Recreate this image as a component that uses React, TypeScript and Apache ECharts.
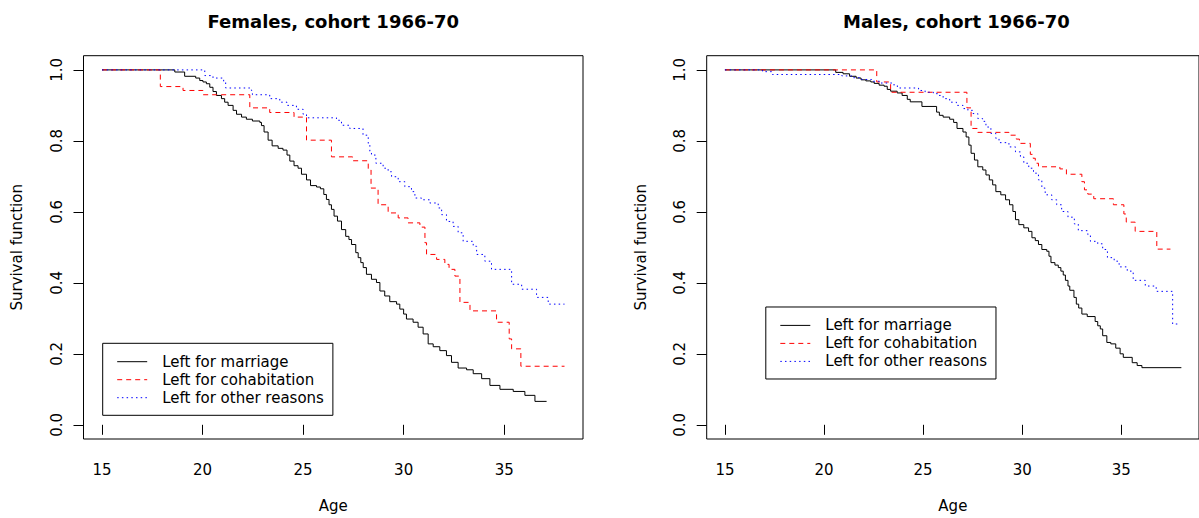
import React, { useEffect, useRef } from "react";
import * as echarts from "echarts";

// ---------- Data ----------
const SERIES_NAMES = ["Left for marriage", "Left for cohabitation", "Left for other reasons"];
const PANEL_TITLES = ["Females, cohort 1966-70", "Males, cohort 1966-70"];
const X_TICKS = [15, 20, 25, 30, 35];
const Y_TICKS = [0, 0.2, 0.4, 0.6, 0.8, 1.0];

// Females, cohort 1966-70
const femMarriageAge = [15, 18.62, 19.11, 19.66, 19.86, 20.02, 20.19, 20.36, 20.52, 20.69, 20.94, 21.1, 21.27, 21.52, 21.69, 21.94, 22.18, 22.48, 22.85, 22.93, 23.06, 23.26, 23.46, 23.76, 24.0, 24.2, 24.34, 24.55, 24.75, 24.92, 25.17, 25.37, 25.67, 25.86, 26.03, 26.16, 26.29, 26.41, 26.54, 26.71, 26.91, 27.12, 27.28, 27.41, 27.62, 27.74, 27.87, 27.99, 28.15, 28.4, 28.65, 28.82, 29.06, 29.31, 29.65, 29.81, 30.0, 30.14, 30.47, 30.72, 30.97, 31.22, 31.47, 31.8, 32.13, 32.38, 32.71, 33.13, 33.46, 33.88, 34.29, 34.79, 35.45, 36.03, 36.53, 37.11];
const femMarriageSurv = [1.0, 0.994, 0.982, 0.977, 0.97, 0.966, 0.961, 0.951, 0.939, 0.928, 0.919, 0.909, 0.9, 0.886, 0.875, 0.867, 0.861, 0.856, 0.852, 0.843, 0.825, 0.802, 0.786, 0.779, 0.774, 0.76, 0.743, 0.73, 0.723, 0.706, 0.69, 0.674, 0.67, 0.665, 0.649, 0.635, 0.62, 0.607, 0.588, 0.574, 0.55, 0.531, 0.522, 0.508, 0.485, 0.471, 0.457, 0.443, 0.424, 0.41, 0.401, 0.377, 0.363, 0.347, 0.34, 0.326, 0.312, 0.298, 0.289, 0.275, 0.256, 0.228, 0.22, 0.209, 0.195, 0.176, 0.16, 0.155, 0.144, 0.13, 0.111, 0.1, 0.094, 0.083, 0.066, 0.066];

const femCohabAge = [15, 17.9, 19.03, 20.02, 22.35, 23.34, 24.55, 25.17, 26.41, 27.46, 28.24, 28.38, 28.73, 29.23, 29.73, 30.22, 30.81, 31.06, 31.14, 31.64, 32.05, 32.26, 32.55, 32.8, 33.3, 34.62, 35.25, 35.37, 35.83, 38.0];
const femCohabSurv = [1.0, 0.953, 0.942, 0.93, 0.893, 0.88, 0.867, 0.802, 0.755, 0.744, 0.718, 0.667, 0.62, 0.597, 0.583, 0.569, 0.557, 0.513, 0.48, 0.466, 0.452, 0.438, 0.419, 0.345, 0.321, 0.289, 0.242, 0.214, 0.165, 0.165];

const femOtherAge = [15, 20.11, 20.52, 21.05, 21.15, 22.43, 22.48, 23.34, 23.84, 24.2, 24.67, 25.0, 25.17, 26.66, 26.91, 27.32, 27.98, 28.24, 28.32, 28.4, 28.62, 28.98, 29.23, 29.4, 29.73, 30.06, 30.39, 30.56, 30.89, 31.3, 31.72, 31.89, 32.13, 32.46, 32.71, 32.96, 33.46, 33.63, 34.04, 34.37, 35.37, 35.87, 36.61, 37.19, 38.0];
const femOtherSurv = [1.0, 0.984, 0.977, 0.966, 0.949, 0.942, 0.93, 0.919, 0.909, 0.9, 0.889, 0.875, 0.865, 0.858, 0.844, 0.835, 0.816, 0.793, 0.771, 0.76, 0.737, 0.723, 0.713, 0.699, 0.685, 0.671, 0.657, 0.639, 0.634, 0.625, 0.611, 0.592, 0.573, 0.559, 0.541, 0.517, 0.503, 0.48, 0.461, 0.438, 0.396, 0.382, 0.359, 0.34, 0.34];

// Males, cohort 1966-70
const maleMarriageAge = [15, 20.59, 20.96, 21.29, 21.62, 21.87, 22.11, 22.36, 22.53, 22.78, 23.03, 23.19, 23.36, 23.69, 23.94, 24.2, 24.35, 24.94, 25.68, 25.82, 26.01, 26.34, 26.54, 26.71, 27.01, 27.17, 27.31, 27.42, 27.59, 27.76, 28.01, 28.17, 28.34, 28.51, 28.67, 28.92, 29.16, 29.36, 29.53, 29.66, 29.83, 30.08, 30.32, 30.49, 30.66, 30.82, 30.99, 31.24, 31.35, 31.45, 31.65, 31.82, 31.95, 32.07, 32.18, 32.31, 32.4, 32.61, 32.73, 32.85, 33.01, 33.28, 33.68, 33.81, 33.94, 34.06, 34.27, 34.47, 34.72, 34.94, 35.1, 35.55, 35.8, 36.04, 38.03];
const maleMarriageSurv = [1.0, 0.993, 0.989, 0.982, 0.977, 0.972, 0.969, 0.966, 0.962, 0.957, 0.954, 0.945, 0.94, 0.935, 0.928, 0.917, 0.91, 0.897, 0.881, 0.872, 0.867, 0.861, 0.852, 0.835, 0.825, 0.811, 0.788, 0.765, 0.746, 0.727, 0.718, 0.704, 0.69, 0.676, 0.657, 0.648, 0.634, 0.62, 0.601, 0.578, 0.564, 0.555, 0.545, 0.527, 0.519, 0.508, 0.494, 0.489, 0.475, 0.457, 0.45, 0.443, 0.433, 0.422, 0.407, 0.391, 0.379, 0.359, 0.34, 0.329, 0.312, 0.305, 0.291, 0.279, 0.27, 0.251, 0.232, 0.228, 0.216, 0.2, 0.19, 0.175, 0.167, 0.161, 0.161];

const maleCohabAge = [15, 22.66, 23.36, 27.21, 27.42, 27.76, 29.33, 29.7, 29.86, 30.41, 30.55, 30.66, 30.82, 31.9, 32.23, 33.01, 33.14, 33.31, 33.61, 34.6, 35.13, 35.25, 35.7, 36.79, 37.48];
const maleCohabSurv = [1.0, 0.966, 0.937, 0.893, 0.835, 0.824, 0.816, 0.805, 0.793, 0.762, 0.751, 0.737, 0.727, 0.721, 0.706, 0.685, 0.662, 0.65, 0.637, 0.62, 0.594, 0.571, 0.545, 0.495, 0.495];

const maleOtherAge = [15, 16.9, 17.4, 20.9, 21.4, 21.9, 22.4, 22.8, 23.44, 23.7, 24.77, 25.1, 25.52, 25.77, 26.01, 26.34, 26.68, 27.01, 27.26, 27.51, 27.76, 28.0, 28.17, 28.42, 28.67, 28.83, 29.33, 29.66, 29.91, 30.08, 30.33, 30.57, 30.82, 30.99, 31.16, 31.49, 31.74, 31.99, 32.31, 32.63, 32.83, 33.31, 33.44, 33.81, 34.06, 34.3, 34.64, 34.89, 35.3, 35.6, 36.21, 36.76, 37.59, 37.92];
const maleOtherSurv = [1.0, 0.995, 0.987, 0.983, 0.978, 0.973, 0.968, 0.963, 0.958, 0.949, 0.942, 0.937, 0.933, 0.928, 0.919, 0.909, 0.9, 0.891, 0.886, 0.877, 0.863, 0.855, 0.839, 0.821, 0.807, 0.795, 0.783, 0.769, 0.755, 0.737, 0.723, 0.709, 0.69, 0.667, 0.648, 0.634, 0.62, 0.601, 0.585, 0.566, 0.547, 0.536, 0.517, 0.51, 0.494, 0.471, 0.461, 0.445, 0.433, 0.407, 0.391, 0.376, 0.284, 0.284];

// ---------- Styling ----------
const FONT = "DejaVu Sans";
const COLORS = ["#000000", "#ff0000", "#0000ff"];
const DASHES: (number[] | "solid")[] = ["solid", [5, 4], [1.5, 3.2]];

const PANELS = [
  { left: 83.5, top: 55.7, width: 499.5, height: 387, legendLeft: 102.7, legendTop: 343.3 },
  { left: 706.7, top: 55.7, width: 499.5, height: 387, legendLeft: 765.8, legendTop: 307 },
];

const zip = (xs: number[], ys: number[]) => xs.map((x, i) => [x, ys[i]]);

export default function App() {
  const ref = useRef<HTMLDivElement>(null);

  useEffect(() => {
    if (!ref.current) return;
    const chart = echarts.init(ref.current, null, { renderer: "svg" });

    const panelData = [
      [zip(femMarriageAge, femMarriageSurv), zip(femCohabAge, femCohabSurv), zip(femOtherAge, femOtherSurv)],
      [zip(maleMarriageAge, maleMarriageSurv), zip(maleCohabAge, maleCohabSurv), zip(maleOtherAge, maleOtherSurv)],
    ];

    const textBase = { fontFamily: FONT, fontSize: 15, color: "#000" };

    const option: any = {
      animation: false,
      backgroundColor: "#ffffff",
      grid: PANELS.map((p) => ({
        left: p.left,
        top: p.top,
        width: p.width,
        height: p.height,
        show: true,
        borderColor: "#000",
        borderWidth: 1,
        backgroundColor: "transparent",
      })),
      xAxis: PANELS.map((_, i) => ({
        type: "value",
        gridIndex: i,
        min: 14.08,
        max: 38.92,
        name: "Age",
        nameLocation: "middle",
        nameGap: 59,
        nameTextStyle: { ...textBase },
        axisLine: { show: false },
        axisTick: { show: true, length: 10, customValues: X_TICKS, lineStyle: { color: "#000", width: 1 } },
        axisLabel: { show: true, customValues: X_TICKS, margin: 23, ...textBase },
        splitLine: { show: false },
      })),
      yAxis: PANELS.map((_, i) => ({
        type: "value",
        gridIndex: i,
        min: -0.04,
        max: 1.04,
        name: "Survival function",
        nameLocation: "middle",
        nameGap: 58.7,
        nameTextStyle: { ...textBase },
        axisLine: { show: false },
        axisTick: { show: true, length: 10, customValues: Y_TICKS, lineStyle: { color: "#000", width: 1 } },
        axisLabel: {
          show: true,
          customValues: Y_TICKS,
          rotate: 90,
          margin: 19.3,
          formatter: (v: number) => v.toFixed(1),
          ...textBase,
        },
        splitLine: { show: false },
      })),
      legend: PANELS.map((p) => ({
        left: p.legendLeft,
        top: p.legendTop,
        orient: "vertical",
        selectedMode: false,
        itemWidth: 30,
        itemHeight: 14,
        itemGap: 3,
        padding: [10.9, 9, 10.1, 14],
        borderColor: "#000",
        borderWidth: 1,
        borderRadius: 0,
        textStyle: { ...textBase, padding: [0, 0, 0, 10] },
        data: SERIES_NAMES.map((name, k) => ({
          name,
          itemStyle: { opacity: 0 },
          lineStyle: { color: COLORS[k], width: 1, type: DASHES[k] },
        })),
      })),
      graphic: PANELS.map((p, i) => ({
        type: "text",
        x: p.left + p.width / 2,
        y: 21.5,
        style: {
          text: PANEL_TITLES[i],
          align: "center",
          verticalAlign: "middle",
          fontFamily: FONT,
          fontWeight: "bold",
          fontSize: 18,
          fill: "#000",
        },
      })),
      series: panelData.flatMap((sets, i) =>
        sets.map((data, k) => ({
          type: "line",
          name: SERIES_NAMES[k],
          xAxisIndex: i,
          yAxisIndex: i,
          data,
          step: "end",
          symbol: "none",
          showSymbol: false,
          silent: true,
          clip: false,
          lineStyle: { color: COLORS[k], width: 1, type: DASHES[k] },
          itemStyle: { color: COLORS[k] },
          emphasis: { disabled: true },
        }))
      ),
    };

    chart.setOption(option);
    return () => chart.dispose();
  }, []);

  return (
    <div
      ref={ref}
      style={{ position: "fixed", left: 0, top: 0, width: 1199, height: 518, background: "#fff" }}
    />
  );
}
